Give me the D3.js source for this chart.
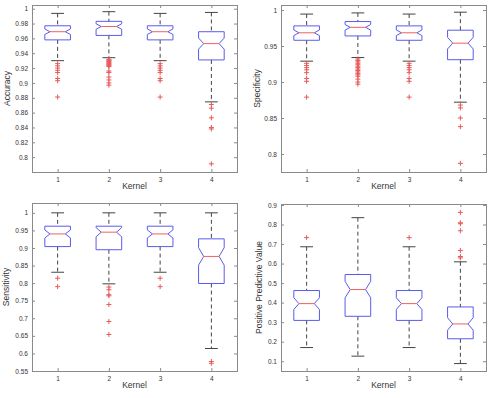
<!DOCTYPE html>
<html>
<head>
<meta charset="utf-8">
<script src="https://cdn.jsdelivr.net/npm/d3@7"></script>
<style>
  body { margin: 0; background: #fff; }
  text { font-family: "Liberation Sans", Arial, sans-serif; fill: #333; }
</style>
</head>
<body>
<div id="vis"></div>
<script>
// categories on x
const kernels = [1, 2, 3, 4]
// samples per kernel, only used for the notch size
const sampleCount = 64

// Accuracy
const accUpper = [0.9937, 0.996, 0.9937, 0.995]
const accQ3 = [0.977, 0.983, 0.977, 0.969]
const accMedian = [0.969, 0.976, 0.969, 0.953]
const accQ1 = [0.958, 0.964, 0.958, 0.931]
const accLower = [0.930, 0.934, 0.930, 0.8745]
const accOutliers = [
    [0.926, 0.923, 0.920, 0.917, 0.914, 0.906, 0.903, 0.881],
    [0.932, 0.931, 0.930, 0.929, 0.928, 0.927, 0.926, 0.925, 0.924, 0.923, 0.922, 0.916, 0.914, 0.908, 0.904, 0.900, 0.897],
    [0.926, 0.923, 0.920, 0.917, 0.914, 0.906, 0.903, 0.881],
    [0.871, 0.866, 0.853, 0.840, 0.838, 0.791]
]
const accTicks = [0.8, 0.82, 0.84, 0.86, 0.88, 0.9, 0.92, 0.94, 0.96, 0.98, 1]

// Specificity
const specUpper = [0.9944, 0.996, 0.9944, 0.997]
const specQ3 = [0.978, 0.984, 0.978, 0.972]
const specMedian = [0.9684, 0.976, 0.9684, 0.954]
const specQ1 = [0.958, 0.964, 0.958, 0.931]
const specLower = [0.929, 0.934, 0.929, 0.872]
const specOutliers = [
    [0.926, 0.923, 0.920, 0.917, 0.913, 0.905, 0.901, 0.879],
    [0.932, 0.930, 0.928, 0.926, 0.924, 0.922, 0.920, 0.918, 0.916, 0.914, 0.912, 0.910, 0.908, 0.904, 0.900, 0.897],
    [0.926, 0.923, 0.920, 0.917, 0.913, 0.905, 0.901, 0.879],
    [0.868, 0.864, 0.850, 0.838, 0.787]
]
const specTicks = [0.8, 0.85, 0.9, 0.95, 1]

// Sensitivity
const sensUpper = [1.0, 1.0, 1.0, 1.0]
const sensQ3 = [0.962, 0.962, 0.962, 0.926]
const sensMedian = [0.940, 0.945, 0.940, 0.876]
const sensQ1 = [0.904, 0.895, 0.904, 0.799]
const sensLower = [0.831, 0.798, 0.831, 0.614]
const sensOutliers = [
    [0.814, 0.790],
    [0.789, 0.781, 0.767, 0.764, 0.739, 0.691, 0.654],
    [0.814, 0.790],
    [0.577, 0.572]
]
const sensTicks = [0.55, 0.6, 0.65, 0.7, 0.75, 0.8, 0.85, 0.9, 0.95, 1]

// Positive Predictive Value
const ppvUpper = [0.686, 0.835, 0.686, 0.609]
const ppvQ3 = [0.462, 0.544, 0.462, 0.378]
const ppvMedian = [0.395, 0.467, 0.395, 0.291]
const ppvQ1 = [0.309, 0.330, 0.309, 0.215]
const ppvLower = [0.170, 0.126, 0.170, 0.088]
const ppvOutliers = [
    [0.733],
    [],
    [0.733],
    [0.862, 0.809, 0.804, 0.768, 0.667, 0.636, 0.629]
]
const ppvTicks = [0.1, 0.2, 0.3, 0.4, 0.5, 0.6, 0.7, 0.8, 0.9]

const width = 490
const height = 398

const svg = d3.select("#vis")
    .append("svg")
    .attr("width", width)
    .attr("height", height)

//one entry per subplot: where it sits and which arrays it reads
const panels = [
    {label: 'Accuracy', box: [32, 237, 5, 172], domain: [0.78, 1.005], ticks: accTicks,
        upper: accUpper, q3: accQ3, median: accMedian, q1: accQ1, lower: accLower, outliers: accOutliers, labelX: 7},
    {label: 'Specificity', box: [281, 486, 5, 172], domain: [0.775, 1.007], ticks: specTicks,
        upper: specUpper, q3: specQ3, median: specMedian, q1: specQ1, lower: specLower, outliers: specOutliers, labelX: 257},
    {label: 'Sensitivity', box: [32, 237, 203, 371], domain: [0.55, 1.028], ticks: sensTicks,
        upper: sensUpper, q3: sensQ3, median: sensMedian, q1: sensQ1, lower: sensLower, outliers: sensOutliers, labelX: 6},
    {label: 'Positive Predictive Value', box: [281, 486, 204, 371], domain: [0.05, 0.905], ticks: ppvTicks,
        upper: ppvUpper, q3: ppvQ3, median: ppvMedian, q1: ppvQ1, lower: ppvLower, outliers: ppvOutliers, labelX: 259}
]

panels.forEach(drawPanel)

function drawPanel(p) {
    const [left, right, top, bottom] = p.box
    const g = svg.append('g')

    const x = d3.scaleLinear().domain([0.5, 4.5]).range([left, right])
    const y = d3.scaleLinear().domain(p.domain).range([bottom, top])
    const boxW = (x(1.5) - x(1)) // 0.5 units wide
    const frame = '#8a8a8a'

    //axes with inward ticks, left + right, bottom + top
    const yLeft = g.append('g').attr('transform', `translate(${left},0)`)
        .call(d3.axisLeft(y).tickValues(p.ticks).tickSizeInner(-3).tickSizeOuter(0).tickPadding(4).tickFormat(d3.format('')))
    const yRight = g.append('g').attr('transform', `translate(${right},0)`)
        .call(d3.axisRight(y).tickValues(p.ticks).tickSizeInner(-3).tickSizeOuter(0).tickFormat(''))
    const xBottom = g.append('g').attr('transform', `translate(0,${bottom})`)
        .call(d3.axisBottom(x).tickValues(kernels).tickSizeInner(-3).tickSizeOuter(0).tickPadding(5).tickFormat(d3.format('d')))
    const xTop = g.append('g').attr('transform', `translate(0,${top})`)
        .call(d3.axisTop(x).tickValues(kernels).tickSizeInner(-3).tickSizeOuter(0).tickFormat(''))
    ;[yLeft, yRight, xBottom, xTop].forEach(a => {
        a.select('.domain').remove()
        a.selectAll('line').attr('stroke', frame)
        a.selectAll('text').style('font-size', '6.5px').attr('fill', '#444')
    })

    g.append('rect')
        .attr('x', left + 0.5).attr('y', top + 0.5)
        .attr('width', right - left).attr('height', bottom - top)
        .attr('fill', 'none').attr('stroke', frame)

    //one group per kernel
    const boxes = g.selectAll('.kbox')
        .data(kernels.map((k, i) => ({
            k: k, upper: p.upper[i], q3: p.q3[i], median: p.median[i], q1: p.q1[i], lower: p.lower[i], outliers: p.outliers[i]
        })))
        .enter()
        .append('g')
        .attr('class', 'kbox')

    //dashed whiskers
    boxes.append('line')
        .attr('x1', d => x(d.k)).attr('x2', d => x(d.k))
        .attr('y1', d => y(d.upper)).attr('y2', d => y(d.q3))
        .attr('stroke', '#444').attr('stroke-dasharray', '4,3')
    boxes.append('line')
        .attr('x1', d => x(d.k)).attr('x2', d => x(d.k))
        .attr('y1', d => y(d.q1)).attr('y2', d => y(d.lower))
        .attr('stroke', '#444').attr('stroke-dasharray', '4,3')

    //whisker caps, half the box width
    ;['upper', 'lower'].forEach(key => {
        boxes.append('line')
            .attr('x1', d => x(d.k) - boxW / 4).attr('x2', d => x(d.k) + boxW / 4)
            .attr('y1', d => y(d[key])).attr('y2', d => y(d[key]))
            .attr('stroke', '#444')
    })

    //notched box, notch = median +- 1.57 IQR / sqrt(n)
    boxes.append('path')
        .attr('d', d => {
            const half = 1.57 * (d.q3 - d.q1) / Math.sqrt(sampleCount)
            const x0 = x(d.k) - boxW / 2, x1 = x(d.k) + boxW / 2
            const inset = boxW * 0.2
            const pts = [
                [x0, y(d.q3)], [x1, y(d.q3)],
                [x1, y(d.median + half)], [x1 - inset, y(d.median)], [x1, y(d.median - half)],
                [x1, y(d.q1)], [x0, y(d.q1)],
                [x0, y(d.median - half)], [x0 + inset, y(d.median)], [x0, y(d.median + half)]
            ]
            return d3.line()(pts) + 'Z'
        })
        .attr('fill', 'none')
        .attr('stroke', '#5a5af0')

    boxes.append('line')
        .attr('x1', d => x(d.k) - boxW / 2 + boxW * 0.2).attr('x2', d => x(d.k) + boxW / 2 - boxW * 0.2)
        .attr('y1', d => y(d.median)).attr('y2', d => y(d.median))
        .attr('stroke', '#f06060')

    //outliers as red plus signs
    boxes.selectAll('.out')
        .data(d => d.outliers.map(v => ({k: d.k, v: v})))
        .enter()
        .append('path')
        .attr('class', 'out')
        .attr('d', d => `M${x(d.k) - 2.5},${y(d.v)}h5M${x(d.k)},${y(d.v) - 2.5}v5`)
        .attr('stroke', '#e85a5a')
        .attr('fill', 'none')

    //labels
    g.append('text')
        .attr('x', (left + right) / 2)
        .attr('y', bottom + 17)
        .attr('text-anchor', 'middle')
        .style('font-size', '8.5px')
        .text('Kernel')

    g.append('text')
        .attr('transform', `translate(${p.labelX},${(top + bottom) / 2}) rotate(-90)`)
        .attr('text-anchor', 'middle')
        .attr('dy', '0.35em')
        .style('font-size', '8.5px')
        .text(p.label)
}
</script>
</body>
</html>
